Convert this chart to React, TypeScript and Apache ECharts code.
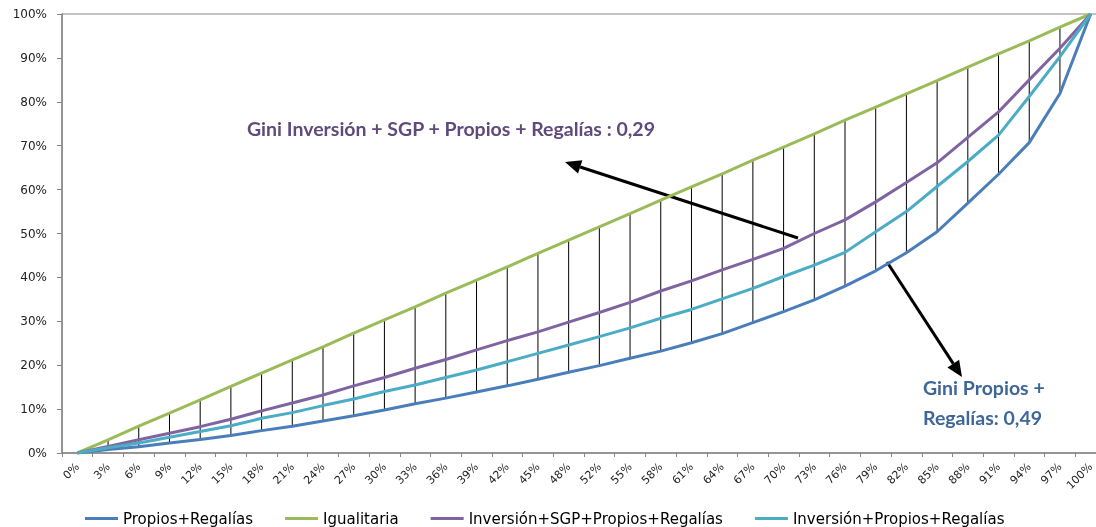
import React, { useEffect, useRef } from "react";
import * as echarts from "echarts";

const categories = ["0%","3%","6%","9%","12%","15%","18%","21%","24%","27%","30%","33%","36%","39%","42%","45%","48%","52%","55%","58%","61%","64%","67%","70%","73%","76%","79%","82%","85%","88%","91%","94%","97%","100%"];
const propiosRegalias = [0,0.8,1.4,2.3,3.1,4.0,5.1,6.1,7.3,8.5,9.8,11.2,12.5,13.9,15.3,16.8,18.4,19.9,21.6,23.2,25.1,27.2,29.7,32.2,34.9,38.0,41.5,45.6,50.4,56.9,63.5,70.7,81.9,100];
const igualitaria = [0,3.0,6.1,9.1,12.1,15.2,18.2,21.2,24.2,27.3,30.3,33.3,36.4,39.4,42.4,45.5,48.5,51.5,54.5,57.6,60.6,63.6,66.7,69.7,72.7,75.8,78.8,81.8,84.8,87.9,90.9,93.9,97.0,100];
const inversionSGP = [0,1.5,3.0,4.5,6.0,7.7,9.6,11.4,13.2,15.3,17.2,19.3,21.3,23.5,25.6,27.6,29.8,32.0,34.3,36.9,39.2,41.7,44.1,46.6,50.0,53.1,57.2,61.6,66.1,71.9,77.7,85.0,92.2,100];
const inversionPropios = [0,1.2,2.3,3.6,4.9,6.2,7.9,9.2,10.8,12.3,14.0,15.5,17.2,18.9,20.8,22.7,24.6,26.5,28.5,30.7,32.7,35.1,37.5,40.2,42.8,45.7,50.4,55.0,60.7,66.4,72.4,81.2,90.3,100];

const seriesNames = ["Propios+Regalías", "Igualitaria", "Inversión+SGP+Propios+Regalías", "Inversión+Propios+Regalías"];
const seriesColors = ["#4A7EBB", "#9BBB59", "#8064A2", "#4BACC6"];

const giniInversion = "Gini Inversión + SGP + Propios + Regalías : 0,29";
const giniPropios = ["Gini Propios +", "Regalías: 0,49"];

function arrow(tail: number[], tip: number[]) {
  const dx = tip[0] - tail[0];
  const dy = tip[1] - tail[1];
  const len = Math.sqrt(dx * dx + dy * dy);
  const ux = dx / len, uy = dy / len;
  const hl = 16, hw = 7;
  const bx = tip[0] - hl * ux, by = tip[1] - hl * uy;
  const nx = -uy, ny = ux;
  return [
    { type: "line", shape: { x1: tail[0], y1: tail[1], x2: bx, y2: by }, style: { stroke: "#000", lineWidth: 3 } },
    { type: "polygon", shape: { points: [[tip[0], tip[1]], [bx + hw * nx, by + hw * ny], [bx - hw * nx, by - hw * ny]] }, style: { fill: "#000" } },
  ];
}

export default function App() {
  const ref = useRef<HTMLDivElement>(null);
  useEffect(() => {
    if (!ref.current) return;
    const chart = echarts.init(ref.current, undefined, { renderer: "svg" });
    const dropData = categories.map((_, i) => [i, propiosRegalias[i], igualitaria[i]]);
    const lineData = [propiosRegalias, igualitaria, inversionSGP, inversionPropios];
    const font = "DejaVu Sans";
    chart.setOption({
      animation: false,
      grid: { left: 62, right: 0, top: 14, bottom: 74, show: true, borderColor: "#868686", borderWidth: 1 },
      legend: {
        top: 506,
        left: 80,
        icon: "rect",
        itemWidth: 33,
        itemHeight: 3,
        itemGap: 32,
        textStyle: { fontFamily: font, fontSize: 15, color: "#000" },
        data: seriesNames,
      },
      xAxis: {
        type: "category",
        data: categories,
        boundaryGap: true,
        axisLine: { lineStyle: { color: "#868686", width: 1.5 } },
        axisTick: { show: true, length: 4, lineStyle: { color: "#868686" }, interval: 0 },
        axisLabel: { rotate: 45, interval: 0, margin: 12, fontFamily: font, fontSize: 11, color: "#222" },
        splitLine: { show: false },
      },
      yAxis: {
        type: "value",
        min: 0,
        max: 100,
        interval: 10,
        axisLine: { show: true, lineStyle: { color: "#868686", width: 1.5 } },
        axisTick: { show: true, length: 5, lineStyle: { color: "#868686" } },
        axisLabel: { formatter: "{value}%", fontFamily: font, fontSize: 12, color: "#222", margin: 15 },
        splitLine: { show: false },
      },
      series: [
        {
          type: "custom",
          name: "drops",
          data: dropData,
          encode: { x: 0, y: [1, 2] },
          z: 1,
          renderItem: (params: any, api: any) => {
            const i = api.value(0);
            const p1 = api.coord([i, api.value(1)]);
            const p2 = api.coord([i, api.value(2)]);
            return {
              type: "line",
              shape: { x1: p1[0], y1: p1[1], x2: p2[0], y2: p2[1] },
              style: { stroke: "#000", lineWidth: 1 },
            };
          },
          silent: true,
        },
        ...seriesNames.map((name, k) => ({
          type: "line",
          name,
          data: lineData[k],
          showSymbol: false,
          symbol: "none",
          z: 2,
          lineStyle: { color: seriesColors[k], width: 3 },
          itemStyle: { color: seriesColors[k] },
        })),
      ],
      graphic: [
        {
          type: "text",
          style: { text: giniInversion, x: 247, y: 128, font: "bold 19.5px Lato", fill: "#604A7B", align: "left", verticalAlign: "middle" },
        },
        {
          type: "text",
          style: { text: giniPropios[0], x: 923, y: 387, font: "bold 19.5px Lato", fill: "#3E6699", align: "left", verticalAlign: "middle" },
        },
        {
          type: "text",
          style: { text: giniPropios[1], x: 923, y: 417, font: "bold 19.5px Lato", fill: "#3E6699", align: "left", verticalAlign: "middle" },
        },
        ...arrow([798, 238], [565, 162]),
        ...arrow([887, 262], [962, 377]),
      ],
    });
    return () => chart.dispose();
  }, []);
  return (
    <div style={{ position: "fixed", left: 0, top: 0, width: 1096, height: 527, overflow: "hidden" }}>
      <div ref={ref} style={{ width: 1106, height: 527 }} />
    </div>
  );
}
